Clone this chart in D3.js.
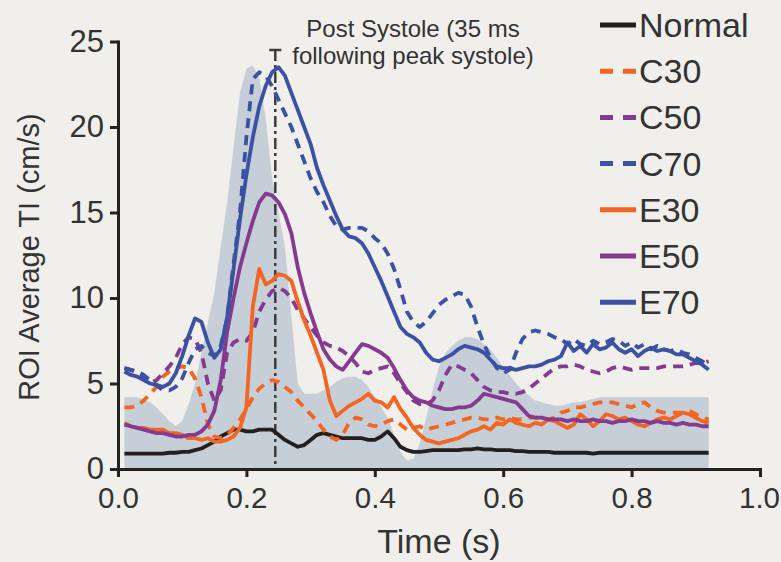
<!DOCTYPE html>
<html>
<head>
<meta charset="utf-8">
<title>ROI Average TI</title>
<script src="https://d3js.org/d3.v7.min.js"></script>
<style>
  body { margin: 0; background: #f0efeb; }
  svg { display: block; }
  text { font-family: "Liberation Sans", Arial, Helvetica, sans-serif; fill: #333; }
  .axis path, .axis line { stroke: #222; stroke-width: 3; }
  .axis text { font-size: 31px; fill: #333; }
  .x-axis text { font-size: 29.5px; }
</style>
</head>
<body>
<svg id="chart" width="781" height="562"></svg>
<script>
// time samples (s)
const time = [0.01,0.02,0.03,0.04,0.05,0.06,0.07,0.08,0.09,0.10,
  0.11,0.12,0.13,0.14,0.15,0.16,0.17,0.18,0.19,0.20,
  0.21,0.22,0.23,0.24,0.25,0.26,0.27,0.28,0.29,0.30,
  0.31,0.32,0.33,0.34,0.35,0.36,0.37,0.38,0.39,0.40,
  0.41,0.42,0.43,0.44,0.45,0.46,0.47,0.48,0.49,0.50,
  0.51,0.52,0.53,0.54,0.55,0.56,0.57,0.58,0.59,0.60,
  0.61,0.62,0.63,0.64,0.65,0.66,0.67,0.68,0.69,0.70,
  0.71,0.72,0.73,0.74,0.75,0.76,0.77,0.78,0.79,0.80,
  0.81,0.82,0.83,0.84,0.85,0.86,0.87,0.88,0.89,0.90,
  0.91,0.92];

// grey shaded envelope
const envelope = [4.2,4.2,4.2,4.1,3.9,3.6,3.2,2.8,2.5,2.8,
  3.8,5.0,6.8,8.6,10.3,13.0,15.6,18.8,22.0,23.4,
  23.6,22.9,20.5,17.0,15.0,13.0,9.0,5.0,4.4,4.4,
  4.4,4.6,4.8,5.1,5.3,5.4,5.4,5.2,4.8,4.2,
  3.6,3.0,2.0,1.0,0.5,0.6,1.5,3.0,4.6,6.0,
  6.8,7.2,7.5,7.7,7.7,7.6,7.3,7.0,6.5,6.0,
  5.5,5.0,4.6,4.3,4.0,3.9,3.8,3.7,3.7,3.8,
  3.9,3.9,4.0,4.1,4.2,4.2,4.2,4.2,4.2,4.2,
  4.2,4.2,4.2,4.2,4.2,4.2,4.2,4.2,4.2,4.2,
  4.2,4.2];

const normal = [0.9,0.9,0.9,0.9,0.9,0.9,0.9,0.95,0.95,1.0,
  1.0,1.1,1.2,1.4,1.6,1.9,2.1,2.3,2.3,2.2,
  2.2,2.3,2.3,2.3,2.0,1.7,1.5,1.3,1.4,1.7,
  2.0,2.1,2.0,1.9,1.8,1.8,1.8,1.8,1.7,1.7,
  1.9,2.2,1.8,1.3,1.1,1.0,1.0,1.05,1.1,1.1,
  1.1,1.1,1.1,1.15,1.15,1.2,1.15,1.15,1.1,1.1,
  1.1,1.05,1.05,1.0,1.0,1.0,1.0,0.95,0.95,0.95,
  0.95,0.95,0.95,0.9,0.95,0.95,0.95,0.95,0.95,0.95,
  0.95,0.95,0.95,0.95,0.95,0.95,0.95,0.95,0.95,0.95,
  0.95,0.95];

const c30 = [3.6,3.6,3.7,4.0,4.4,4.8,5.4,5.7,5.9,6.0,
  5.9,5.3,4.2,2.6,1.9,1.8,2.0,2.4,2.9,3.5,
  4.2,4.7,5.0,5.2,5.1,4.8,4.5,4.0,3.6,3.2,
  2.8,2.3,1.9,1.7,2.0,2.7,3.0,2.9,2.6,2.5,
  2.6,2.8,2.9,2.6,2.3,2.4,2.5,2.3,2.4,2.5,
  2.6,2.7,2.8,2.9,3.0,3.0,2.9,2.9,3.0,2.9,
  3.0,2.9,2.9,3.0,3.0,3.0,2.9,3.0,3.3,3.4,
  3.6,3.6,3.7,3.8,3.9,3.9,3.9,3.8,3.7,3.6,
  3.8,3.9,3.6,3.4,3.3,3.3,3.3,3.3,3.4,3.2,
  3.0,2.9];

const c50 = [5.9,5.8,5.6,5.3,5.0,5.2,5.6,6.0,6.5,7.3,
  7.7,7.6,6.8,5.0,4.0,4.6,6.8,7.4,7.6,7.5,
  8.0,9.2,9.9,10.4,10.6,10.4,10.0,9.3,8.8,8.3,
  7.8,7.4,7.2,7.1,6.9,6.6,6.2,5.7,5.6,5.8,
  5.9,6.0,5.6,5.0,4.5,4.0,3.8,3.8,4.0,4.6,
  5.5,6.1,6.0,5.8,5.6,5.2,4.8,4.6,4.5,4.5,
  4.4,4.4,4.5,4.7,5.0,5.3,5.6,5.9,6.0,6.0,
  6.1,6.0,5.8,5.7,5.6,5.7,5.9,6.0,5.9,5.8,
  5.9,5.9,5.9,5.9,6.0,6.0,6.0,6.0,6.1,6.2,
  6.2,6.3];

const c70 = [5.9,5.8,5.7,5.5,5.2,4.9,4.6,4.6,4.8,5.3,
  6.2,7.0,7.2,6.8,6.6,7.2,8.8,12.0,15.0,19.4,
  22.8,23.2,23.0,22.4,21.6,20.8,20.0,19.0,18.0,17.0,
  16.2,15.6,14.8,14.2,14.0,14.1,14.1,14.1,13.9,13.5,
  13.2,12.6,11.7,10.5,9.2,8.6,8.3,8.6,9.1,9.6,
  9.9,10.1,10.3,10.2,9.5,8.3,7.3,6.5,5.9,5.6,
  5.8,6.8,7.6,8.0,8.1,8.0,7.9,7.7,7.6,7.3,
  7.6,7.3,7.2,7.5,7.3,7.4,7.6,7.5,7.2,7.4,
  7.1,7.3,7.0,7.2,7.0,6.9,7.0,6.8,6.7,6.5,
  6.3,6.0];

const e30 = [2.7,2.5,2.4,2.4,2.3,2.3,2.3,2.1,2.1,2.0,
  1.8,1.8,1.7,1.8,1.6,1.6,1.7,1.9,2.4,3.6,
  9.5,11.7,10.8,11.0,11.4,11.3,11.0,9.8,8.7,7.8,
  6.8,5.8,4.0,3.1,3.4,3.7,3.9,4.1,4.4,4.0,
  3.9,3.6,4.2,3.5,3.0,2.4,2.0,1.7,1.6,1.5,
  1.6,1.7,1.8,2.0,2.2,2.3,2.5,2.3,2.7,2.6,
  2.9,2.7,2.6,2.5,2.7,2.6,2.9,2.8,2.6,2.4,
  2.6,3.2,2.9,2.5,2.8,3.2,3.1,2.9,3.0,2.8,
  2.6,2.5,2.7,2.9,3.0,2.9,3.1,3.3,3.2,3.0,
  2.8,2.7];

const e50 = [2.6,2.5,2.4,2.3,2.2,2.1,2.1,2.0,1.9,1.9,
  2.0,2.0,2.2,2.6,3.4,5.2,8.0,10.0,11.8,13.2,
  14.5,15.6,16.1,16.0,15.6,14.9,13.8,11.8,10.3,9.1,
  8.0,7.0,6.4,6.0,5.8,6.3,6.8,7.3,7.2,7.0,
  6.8,6.5,5.9,5.2,4.6,4.2,4.0,3.9,3.7,3.6,
  3.5,3.5,3.6,3.6,3.7,4.0,4.4,4.3,4.2,4.1,
  4.0,3.9,3.5,3.1,3.0,3.0,2.9,2.9,2.9,2.8,
  2.9,2.8,2.8,2.9,2.8,2.8,2.7,2.8,2.8,2.9,
  2.8,2.8,2.7,2.8,2.7,2.7,2.6,2.7,2.6,2.6,
  2.5,2.5];

const e70 = [5.7,5.5,5.4,5.2,5.0,4.9,4.8,5.0,5.6,6.6,
  7.8,8.8,8.6,7.4,6.5,7.0,8.9,11.7,14.6,17.2,
  19.4,21.2,22.4,23.2,23.5,23.0,22.0,21.0,20.0,19.0,
  17.6,16.6,15.7,14.8,14.0,13.6,13.5,13.2,12.6,11.8,
  11.0,10.1,9.2,8.3,7.9,7.7,7.4,6.8,6.4,6.3,
  6.5,6.7,7.0,7.2,7.1,7.0,6.8,6.4,6.0,5.9,
  5.9,5.8,5.9,6.0,6.0,6.1,6.3,6.4,6.6,7.4,
  6.9,7.2,6.8,7.3,7.0,7.1,7.4,7.0,6.8,7.0,
  6.6,6.9,7.1,6.9,7.0,6.9,6.7,6.7,6.5,6.3,
  6.1,5.8];

const seriesNames = ["Normal", "C30", "C50", "C70", "E30", "E50", "E70"];
const seriesValues = [normal, c30, c50, c70, e30, e50, e70];
const seriesColors = ["#231f20", "#f26522", "#833a8f", "#3b51a3", "#f26522", "#833a8f", "#3b51a3"];
const seriesDashed = [false, true, true, true, false, false, false];

const xTicks = [0, 0.2, 0.4, 0.6, 0.8, 1.0];
const yTicks = [0, 5, 10, 15, 20, 25];
const postSystole = 0.245;

const svg = d3.select("#chart");

const x = d3.scaleLinear().domain([0, 1]).range([118, 760]);
const y = d3.scaleLinear().domain([0, 25]).range([469, 41.5]);

// shaded band
const area = d3.area()
  .x(function (d, i) { return x(time[i]); })
  .y0(y(0))
  .y1(function (d) { return y(d); });

svg.append("path")
  .datum(envelope)
  .attr("d", area)
  .attr("fill", "#c6cfd8");

// post systole marker
svg.append("line")
  .attr("x1", x(postSystole)).attr("x2", x(postSystole))
  .attr("y1", 50).attr("y2", y(0))
  .attr("stroke", "#3d3d3d")
  .attr("stroke-width", 2.5)
  .attr("stroke-dasharray", "11,4,3,4");
svg.append("line")
  .attr("x1", x(postSystole) - 6).attr("x2", x(postSystole) + 6)
  .attr("y1", 50).attr("y2", 50)
  .attr("stroke", "#3d3d3d")
  .attr("stroke-width", 2.5);

svg.append("text")
  .attr("x", 413).attr("y", 37)
  .attr("text-anchor", "middle")
  .style("font-size", "24px")
  .text("Post Systole (35 ms");
svg.append("text")
  .attr("x", 413).attr("y", 64)
  .attr("text-anchor", "middle")
  .style("font-size", "24px")
  .text("following peak systole)");

// series lines
const line = d3.line()
  .x(function (d, i) { return x(time[i]); })
  .y(function (d) { return y(d); });

seriesValues.forEach(function (vals, k) {
  svg.append("path")
    .datum(vals)
    .attr("d", line)
    .attr("fill", "none")
    .attr("stroke", seriesColors[k])
    .attr("stroke-width", 3.8)
    .attr("stroke-linejoin", "round")
    .attr("stroke-dasharray", seriesDashed[k] ? "10,7" : null);
});

// axes
svg.append("g")
  .attr("class", "axis x-axis")
  .attr("transform", "translate(0," + y(0) + ")")
  .call(d3.axisBottom(x).tickValues(xTicks).tickFormat(d3.format(".1f"))
    .tickSize(8).tickSizeOuter(0).tickPadding(10));

// keep the last label inside the frame
svg.selectAll(".x-axis .tick:last-of-type text").attr("dx", "-1px");

svg.append("g")
  .attr("class", "axis")
  .attr("transform", "translate(" + x(0) + ",0)")
  .call(d3.axisLeft(y).tickValues(yTicks).tickSize(8).tickSizeOuter(0).tickPadding(6));

svg.selectAll(".axis .domain").attr("stroke-linecap", "square");

svg.append("text")
  .attr("x", 439).attr("y", 553)
  .attr("text-anchor", "middle")
  .style("font-size", "34px")
  .text("Time (s)");

svg.append("text")
  .attr("transform", "translate(39,257) rotate(-90)")
  .attr("text-anchor", "middle")
  .style("font-size", "29px")
  .text("ROI Average TI (cm/s)");

// legend
const legend = svg.append("g");
seriesNames.forEach(function (name, k) {
  const ly = 25 + k * 46.2;
  legend.append("line")
    .attr("x1", 600).attr("x2", 636)
    .attr("y1", ly).attr("y2", ly)
    .attr("stroke", seriesColors[k])
    .attr("stroke-width", 5)
    .attr("stroke-dasharray", seriesDashed[k] ? "13,10" : null);
  legend.append("text")
    .attr("x", 639).attr("y", ly + 12)
    .style("font-size", "34px")
    .text(name);
});
</script>
</body>
</html>
